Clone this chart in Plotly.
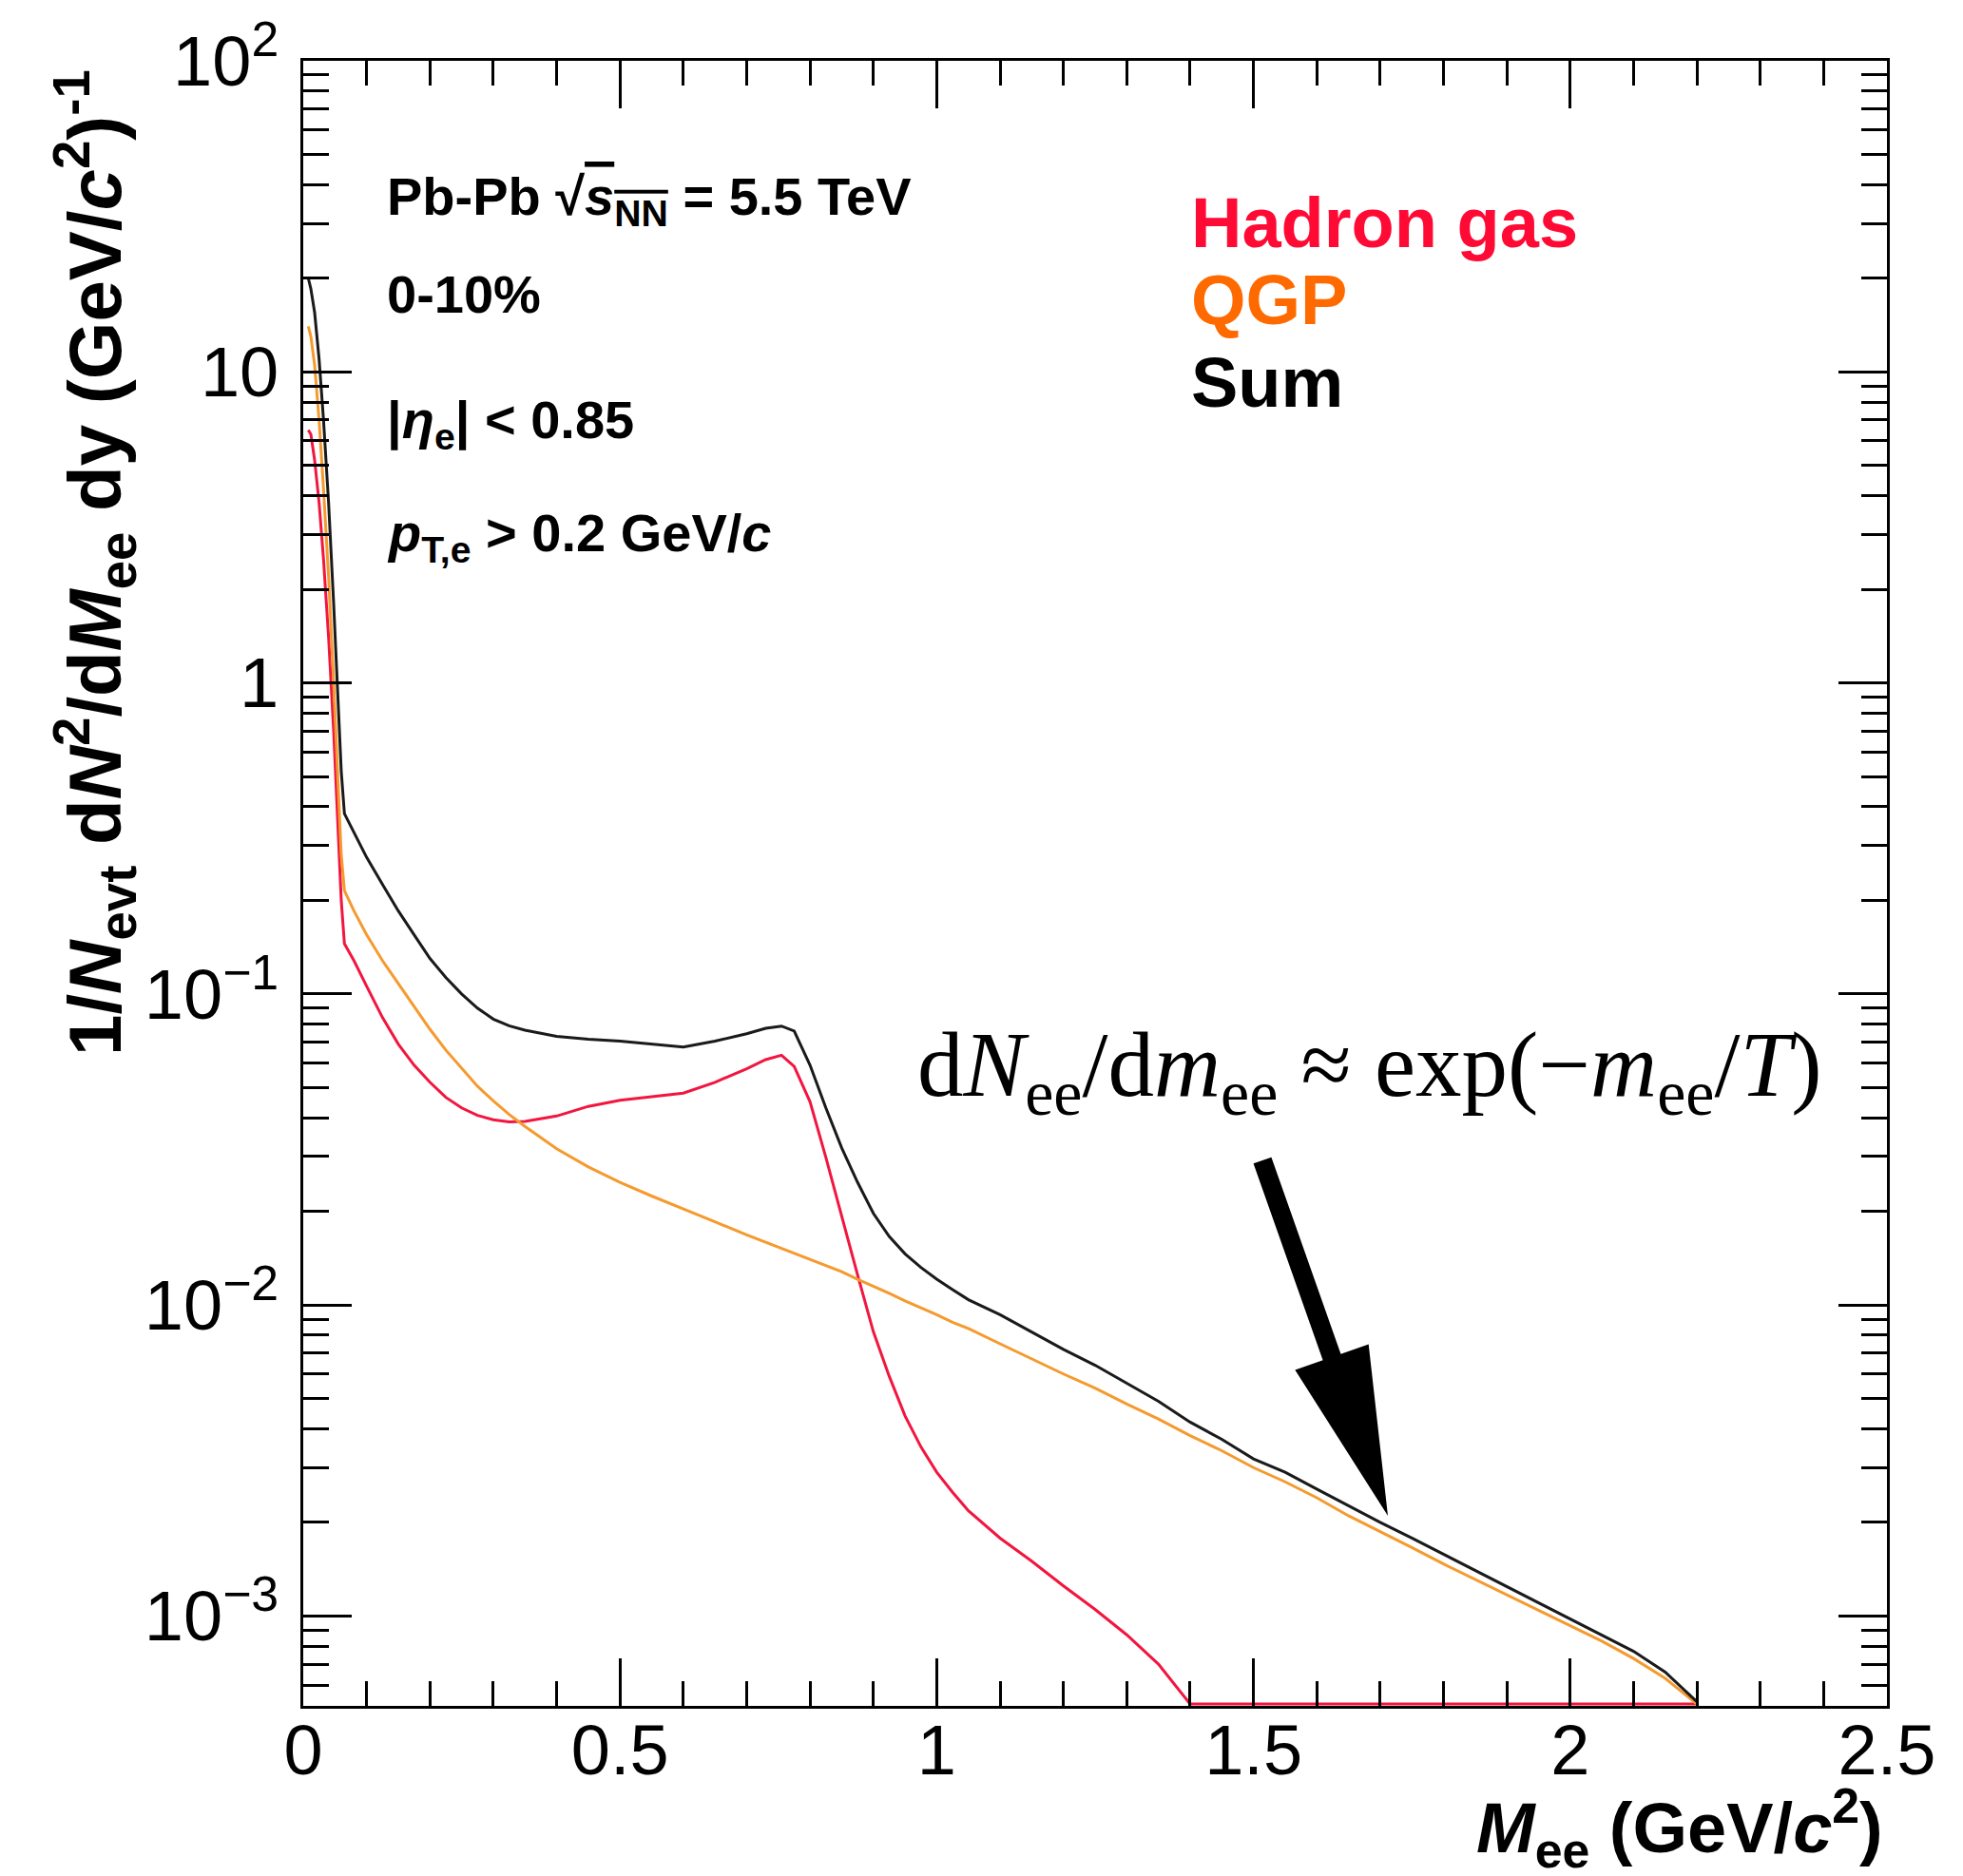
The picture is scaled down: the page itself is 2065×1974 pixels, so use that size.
import numpy as np
import plotly.graph_objects as go

# Dielectron invariant-mass grid (GeV/c^2) shared by the three spectra
mass = [0.008, 0.012, 0.018, 0.025, 0.032, 0.04, 0.048, 0.055, 0.06, 0.065,
        0.08, 0.1, 0.125, 0.15, 0.175, 0.2, 0.225, 0.25, 0.275, 0.3,
        0.325, 0.35, 0.4, 0.45, 0.5, 0.55, 0.6, 0.65, 0.7, 0.73,
        0.755, 0.775, 0.8, 0.825, 0.85, 0.875, 0.9, 0.925, 0.95, 0.975,
        1.0, 1.025, 1.05, 1.1, 1.15, 1.2, 1.25, 1.3, 1.35, 1.4, 1.45,
        1.5, 1.55, 1.6, 1.65, 1.7, 1.75, 1.8, 1.85, 1.9, 1.95,
        2.0, 2.05, 2.1, 2.15, 2.2]

# 1/N_evt dN^2/dM_ee dy  (GeV/c^2)^-1
hadron_gas = [6.5, 6.3, 5.2, 3.8, 2.5, 1.4, 0.7, 0.33, 0.2, 0.145,
              0.128, 0.106, 0.084, 0.069, 0.059, 0.052, 0.0465, 0.043, 0.0407, 0.0394,
              0.0388, 0.0389, 0.0405, 0.0435, 0.0455, 0.0467, 0.048, 0.052, 0.0575, 0.0615,
              0.0635, 0.0585, 0.045, 0.0298, 0.0192, 0.0125, 0.0082, 0.0059, 0.0044, 0.0035,
              0.0029, 0.0025, 0.00218, 0.00178, 0.0015, 0.00125, 0.00105, 0.00087, 0.0007, 0.0005,
              0.00035, 0.00026, 0.0002, 0.00016, 0.00013, 0.00011, 0.00009, 0.000075, 0.000062,
              0.000052, 0.000044, 0.000037, 0.000031, 0.000026, 0.000022, 0.000018]

qgp = [14.0, 13.0, 10.5, 7.0, 4.2, 2.2, 1.0, 0.48, 0.28, 0.215,
       0.185, 0.155, 0.128, 0.108, 0.091, 0.077, 0.066, 0.0575, 0.0505, 0.0453,
       0.041, 0.0375, 0.0318, 0.0278, 0.0248, 0.0224, 0.0203, 0.0185, 0.0168, 0.0159,
       0.0152, 0.0147, 0.014, 0.0134, 0.0128, 0.0121, 0.0115, 0.0109, 0.0103, 0.0098,
       0.0093, 0.0088, 0.0084, 0.0075, 0.0067, 0.006, 0.0054, 0.0048, 0.0043, 0.0038, 0.0034,
       0.003, 0.0027, 0.0024, 0.0021, 0.00187, 0.00166, 0.00147, 0.00131, 0.00117, 0.00104,
       0.00093, 0.00083, 0.00073, 0.00063, 0.00051]

total = [20.0, 18.5, 15.5, 11.0, 7.0, 3.8, 1.8, 0.85, 0.52, 0.38,
         0.33, 0.275, 0.225, 0.185, 0.155, 0.13, 0.113, 0.1, 0.09, 0.083,
         0.079, 0.0765, 0.073, 0.0715, 0.0705, 0.069, 0.0675, 0.0705, 0.0745, 0.0775,
         0.0788, 0.076, 0.059, 0.043, 0.032, 0.0248, 0.0197, 0.0166, 0.0146, 0.0132,
         0.0121, 0.0112, 0.0104, 0.0093, 0.0082, 0.0072, 0.0064, 0.0056, 0.0049, 0.0042, 0.0037,
         0.0032, 0.0029, 0.00256, 0.00226, 0.002, 0.00178, 0.00158, 0.0014, 0.00124, 0.0011,
         0.00098, 0.00087, 0.00077, 0.00066, 0.00053]

x_ticks = [0, 0.5, 1, 1.5, 2, 2.5]
x_ticktext = ["0", "0.5", "1", "1.5", "2", "2.5"]
y_ticks = [1e-3, 1e-2, 1e-1, 1, 10, 100]
y_ticktext = ["10<sup>\u22123</sup>", "10<sup>\u22122</sup>", "10<sup>\u22121</sup>",
              "1", "10", "10<sup>2</sup>"]

# ---- page geometry (pixels) ----
W, H = 2065, 1974
L, R, T, B = 319, 80, 55, 179
PW, PH = W - L - R, H - T - B

Y_LOG_MIN, Y_LOG_MAX = -3.289, 2.0
X_MIN, X_MAX = 0.0, 2.5


def px_x(p):
    return (p - L) / PW


def px_y(p):
    return (H - B - p) / PH


# underflow is drawn on the lower frame edge, as in ROOT
floor = 10 ** (Y_LOG_MIN + 0.006)


def clip(v):
    return np.maximum(np.asarray(v, dtype=float), floor)


RED = "#F2163F"
ORANGE = "#F59A2E"
BLACK = "#1a1a1a"

fig = go.Figure()
fig.add_trace(go.Scatter(x=mass, y=clip(hadron_gas), mode="lines",
                         line=dict(color=RED, width=3), name="Hadron gas"))
fig.add_trace(go.Scatter(x=mass, y=clip(qgp), mode="lines",
                         line=dict(color=ORANGE, width=3), name="QGP"))
fig.add_trace(go.Scatter(x=mass, y=clip(total), mode="lines",
                         line=dict(color=BLACK, width=3), name="Sum"))

minor_y = [k * 10.0 ** p for p in range(-4, 2) for k in range(2, 10)
           if Y_LOG_MIN <= np.log10(k * 10.0 ** p) <= Y_LOG_MAX]

tick_font = dict(family="Liberation Sans", size=74, color="black")

fig.update_xaxes(range=[X_MIN, X_MAX], tickmode="array", tickvals=x_ticks,
                 ticktext=x_ticktext, ticks="inside", ticklen=50, tickwidth=3,
                 tickcolor="black", showline=True, linewidth=3, linecolor="black",
                 mirror="ticks", showgrid=False, zeroline=False, tickfont=tick_font,
                 ticklabelstandoff=-20,
                 minor=dict(ticks="inside", ticklen=26, tickwidth=3, tickcolor="black",
                            dtick=0.1, tick0=0, showgrid=False))
fig.update_yaxes(type="log", range=[Y_LOG_MIN, Y_LOG_MAX], tickmode="array",
                 tickvals=y_ticks, ticktext=y_ticktext, ticks="inside", ticklen=51,
                 tickwidth=3, tickcolor="black", showline=True, linewidth=3,
                 linecolor="black", mirror="ticks", showgrid=False, zeroline=False,
                 tickfont=tick_font, ticklabelstandoff=8,
                 minor=dict(ticks="inside", ticklen=27, tickwidth=3, tickcolor="black",
                            tickmode="array", tickvals=minor_y, showgrid=False))

annotations = []


def label(text, xp, yp, size, color="black", family="Liberation Sans",
          xanchor="left", yanchor="middle", angle=0):
    annotations.append(dict(text=text, x=px_x(xp), y=px_y(yp), xref="paper",
                            yref="paper", showarrow=False, xanchor=xanchor,
                            yanchor=yanchor, textangle=angle,
                            font=dict(family=family, size=size, color=color)))


# axis titles
label("<b><i>M</i><sub>ee</sub> (GeV/<i>c</i><sup>2</sup>)</b>", 1983, 1924, 74,
      xanchor="right")
label("<b>1/<i>N</i><sub>evt</sub> d<i>N</i><sup>2</sup>/d<i>M</i><sub>ee</sub> dy "
      "(GeV/<i>c</i><sup>2</sup>)<sup>-1</sup></b>", 100, 62, 78,
      xanchor="center", yanchor="top", angle=-90)

# collision system and cuts
OL = "text-decoration:overline"
label(f"<b>Pb-Pb \u221a<span style='{OL}'><i>s</i></span>"
      f"<sub><span style='{OL}'>NN</span></sub> = 5.5 TeV</b>", 405, 202, 56)
label("<b>0-10%</b>", 405, 302, 56)
label("<b>|<i>\u03b7</i><sub>e</sub>| &lt; 0.85</b>", 405, 438, 56)
label("<b><i>p</i><sub>T,e</sub> &gt; 0.2 GeV/<i>c</i></b>", 405, 558, 56)

# series labels
label("<b>Hadron gas</b>", 1251, 226, 74, color="#FF0A35")
label("<b>QGP</b>", 1251, 308, 74, color="#FF6A00")
label("<b>Sum</b>", 1251, 395, 74, color="black")

# exponential-slope remark
label("d<i>N</i><sub>ee</sub>/d<i>m</i><sub>ee</sub> \u2248 exp(\u2212<i>m</i><sub>ee</sub>/<i>T</i>)",
      963, 1124, 97, family="Liberation Serif")

# thick arrow pointing at the exponential tail
tail = np.array([1328.0, 1218.0])
tip = np.array([1460.0, 1594.0])
u = (tip - tail) / np.linalg.norm(tip - tail)
n = np.array([u[1], -u[0]])
head_len, head_hw, shaft_hw = 178.0, 41.0, 10.0
base = tip - head_len * u
pts = [tail + n * shaft_hw, base + n * shaft_hw, base + n * head_hw, tip,
       base - n * head_hw, base - n * shaft_hw, tail - n * shaft_hw]
path = "M " + " L ".join(f"{px_x(p[0]):.5f},{px_y(p[1]):.5f}" for p in pts) + " Z"

fig.update_layout(
    width=W, height=H,
    margin=dict(l=L, r=R, t=T, b=B, pad=0),
    paper_bgcolor="white", plot_bgcolor="white",
    showlegend=False,
    font=dict(family="Liberation Sans", color="black"),
    annotations=annotations,
    shapes=[dict(type="path", path=path, xref="paper", yref="paper",
                 fillcolor="black", line=dict(width=0))],
)

fig.write_html("out.html", post_script="document.body.style.margin='0';")
